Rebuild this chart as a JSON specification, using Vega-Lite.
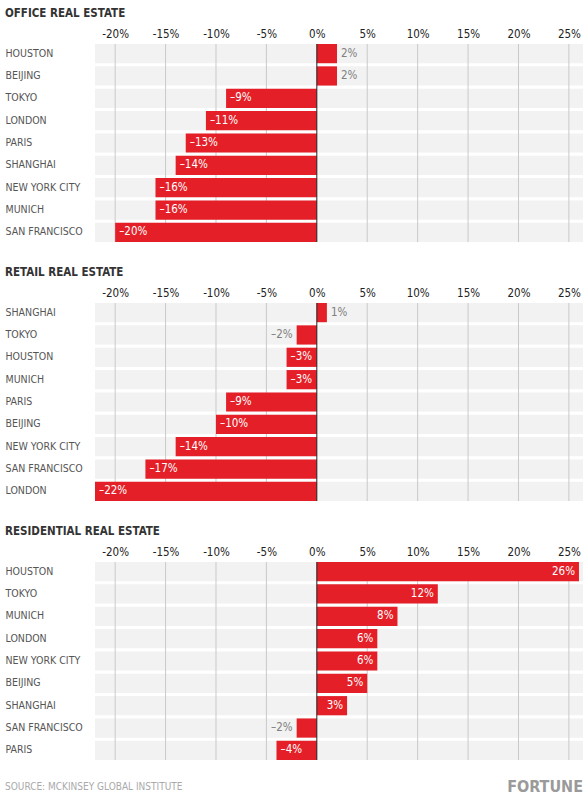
{
  "$schema": "https://vega.github.io/schema/vega-lite/v6.json",
  "padding": {"left": 5, "top": 7, "right": 0, "bottom": 4},
  "background": "white",
  "datasets": {
    "rows": [
      {"panel": "office", "city": "HOUSTON", "v": 2, "label": "2%"},
      {"panel": "office", "city": "BEIJING", "v": 2, "label": "2%"},
      {"panel": "office", "city": "TOKYO", "v": -9, "label": "–9%"},
      {"panel": "office", "city": "LONDON", "v": -11, "label": "–11%"},
      {"panel": "office", "city": "PARIS", "v": -13, "label": "–13%"},
      {"panel": "office", "city": "SHANGHAI", "v": -14, "label": "–14%"},
      {"panel": "office", "city": "NEW YORK CITY", "v": -16, "label": "–16%"},
      {"panel": "office", "city": "MUNICH", "v": -16, "label": "–16%"},
      {"panel": "office", "city": "SAN FRANCISCO", "v": -20, "label": "–20%"},
      {"panel": "retail", "city": "SHANGHAI", "v": 1, "label": "1%"},
      {"panel": "retail", "city": "TOKYO", "v": -2, "label": "–2%"},
      {"panel": "retail", "city": "HOUSTON", "v": -3, "label": "–3%"},
      {"panel": "retail", "city": "MUNICH", "v": -3, "label": "–3%"},
      {"panel": "retail", "city": "PARIS", "v": -9, "label": "–9%"},
      {"panel": "retail", "city": "BEIJING", "v": -10, "label": "–10%"},
      {"panel": "retail", "city": "NEW YORK CITY", "v": -14, "label": "–14%"},
      {"panel": "retail", "city": "SAN FRANCISCO", "v": -17, "label": "–17%"},
      {"panel": "retail", "city": "LONDON", "v": -22, "label": "–22%"},
      {"panel": "residential", "city": "HOUSTON", "v": 26, "label": "26%"},
      {"panel": "residential", "city": "TOKYO", "v": 12, "label": "12%"},
      {"panel": "residential", "city": "MUNICH", "v": 8, "label": "8%"},
      {"panel": "residential", "city": "LONDON", "v": 6, "label": "6%"},
      {"panel": "residential", "city": "NEW YORK CITY", "v": 6, "label": "6%"},
      {"panel": "residential", "city": "BEIJING", "v": 5, "label": "5%"},
      {"panel": "residential", "city": "SHANGHAI", "v": 3, "label": "3%"},
      {"panel": "residential", "city": "SAN FRANCISCO", "v": -2, "label": "–2%"},
      {"panel": "residential", "city": "PARIS", "v": -4, "label": "–4%"}
    ],
    "ticks": [
      {"t": -20}, {"t": -15}, {"t": -10}, {"t": -5}, {"t": 5}, {"t": 10}, {"t": 15}, {"t": 20}, {"t": 25}
    ]
  },
  "title": {
    "text": "FORTUNE",
    "orient": "bottom",
    "anchor": "end",
    "fontSize": 16,
    "fontWeight": "bold",
    "color": "#9a9a9a",
    "offset": 0,
    "dy": -13
  },
  "spacing": 23,
  "vconcat": [
    {
      "vconcat": [
        {
          "title": {"text": "OFFICE REAL ESTATE"},
          "width": 488,
          "height": 198,
          "data": {"name": "rows"},
          "transform": [{"filter": "datum.panel == 'office'"}],
          "layer": [
            {
              "mark": {"type": "bar", "color": "#f2f2f2"},
              "encoding": {
                "y": {"field": "city", "type": "nominal", "sort": null, "scale": {"paddingInner": 0.14, "paddingOuter": 0}, "axis": {"labelAlign": "left", "labelPadding": 90, "ticks": false, "domain": false, "title": null, "labelFontSize": 10.5, "labelColor": "#555555"}},
                "x": {"datum": -22, "type": "quantitative", "scale": {"domain": [-22, 26.4], "nice": false, "zero": false}, "axis": {"orient": "top", "values": [-20, -15, -10, -5, 0, 5, 10, 15, 20, 25], "labelExpr": "datum.value + '%'", "grid": false, "ticks": false, "domain": false, "title": null, "labelPadding": 5, "labelFontSize": 11.5, "labelColor": "#222222"}},
                "x2": {"datum": 26.4}
              }
            },
            {
              "data": {"name": "ticks"},
              "mark": {"type": "rule", "color": "#c9c9c9", "strokeWidth": 1},
              "encoding": {"x": {"field": "t", "type": "quantitative"}}
            },
            {
              "mark": {"type": "bar", "color": "#e41f28"},
              "encoding": {
                "y": {"field": "city", "type": "nominal", "sort": null},
                "x": {"field": "v", "type": "quantitative"},
                "x2": {"datum": 0}
              }
            },
            {
              "data": {"values": [{}]},
              "mark": {"type": "rule", "color": "#222222", "strokeWidth": 1},
              "encoding": {"x": {"datum": 0}}
            },
            {
              "transform": [{"filter": "datum.v <= -3"}],
              "mark": {"type": "text", "align": "left", "dx": 4, "fontSize": 11.5, "fontWeight": 500, "color": "white"},
              "encoding": {"y": {"field": "city", "type": "nominal", "sort": null}, "x": {"field": "v", "type": "quantitative"}, "text": {"field": "label"}}
            },
            {
              "transform": [{"filter": "datum.v >= 3"}],
              "mark": {"type": "text", "align": "right", "dx": -4, "fontSize": 11.5, "fontWeight": 500, "color": "white"},
              "encoding": {"y": {"field": "city", "type": "nominal", "sort": null}, "x": {"field": "v", "type": "quantitative"}, "text": {"field": "label"}}
            },
            {
              "transform": [{"filter": "datum.v > 0 && datum.v < 3"}],
              "mark": {"type": "text", "align": "left", "dx": 4, "fontSize": 11.5, "color": "#808080"},
              "encoding": {"y": {"field": "city", "type": "nominal", "sort": null}, "x": {"field": "v", "type": "quantitative"}, "text": {"field": "label"}}
            },
            {
              "transform": [{"filter": "datum.v < 0 && datum.v > -3"}],
              "mark": {"type": "text", "align": "right", "dx": -4, "fontSize": 11.5, "color": "#808080"},
              "encoding": {"y": {"field": "city", "type": "nominal", "sort": null}, "x": {"field": "v", "type": "quantitative"}, "text": {"field": "label"}}
            }
          ]
        }
      ]
    },
    {
      "vconcat": [
        {
          "title": {"text": "RETAIL REAL ESTATE"},
          "width": 488,
          "height": 198,
          "data": {"name": "rows"},
          "transform": [{"filter": "datum.panel == 'retail'"}],
          "layer": [
            {
              "mark": {"type": "bar", "color": "#f2f2f2"},
              "encoding": {
                "y": {"field": "city", "type": "nominal", "sort": null, "scale": {"paddingInner": 0.14, "paddingOuter": 0}, "axis": {"labelAlign": "left", "labelPadding": 90, "ticks": false, "domain": false, "title": null, "labelFontSize": 10.5, "labelColor": "#555555"}},
                "x": {"datum": -22, "type": "quantitative", "scale": {"domain": [-22, 26.4], "nice": false, "zero": false}, "axis": {"orient": "top", "values": [-20, -15, -10, -5, 0, 5, 10, 15, 20, 25], "labelExpr": "datum.value + '%'", "grid": false, "ticks": false, "domain": false, "title": null, "labelPadding": 5, "labelFontSize": 11.5, "labelColor": "#222222"}},
                "x2": {"datum": 26.4}
              }
            },
            {
              "data": {"name": "ticks"},
              "mark": {"type": "rule", "color": "#c9c9c9", "strokeWidth": 1},
              "encoding": {"x": {"field": "t", "type": "quantitative"}}
            },
            {
              "mark": {"type": "bar", "color": "#e41f28"},
              "encoding": {
                "y": {"field": "city", "type": "nominal", "sort": null},
                "x": {"field": "v", "type": "quantitative"},
                "x2": {"datum": 0}
              }
            },
            {
              "data": {"values": [{}]},
              "mark": {"type": "rule", "color": "#222222", "strokeWidth": 1},
              "encoding": {"x": {"datum": 0}}
            },
            {
              "transform": [{"filter": "datum.v <= -3"}],
              "mark": {"type": "text", "align": "left", "dx": 4, "fontSize": 11.5, "fontWeight": 500, "color": "white"},
              "encoding": {"y": {"field": "city", "type": "nominal", "sort": null}, "x": {"field": "v", "type": "quantitative"}, "text": {"field": "label"}}
            },
            {
              "transform": [{"filter": "datum.v >= 3"}],
              "mark": {"type": "text", "align": "right", "dx": -4, "fontSize": 11.5, "fontWeight": 500, "color": "white"},
              "encoding": {"y": {"field": "city", "type": "nominal", "sort": null}, "x": {"field": "v", "type": "quantitative"}, "text": {"field": "label"}}
            },
            {
              "transform": [{"filter": "datum.v > 0 && datum.v < 3"}],
              "mark": {"type": "text", "align": "left", "dx": 4, "fontSize": 11.5, "color": "#808080"},
              "encoding": {"y": {"field": "city", "type": "nominal", "sort": null}, "x": {"field": "v", "type": "quantitative"}, "text": {"field": "label"}}
            },
            {
              "transform": [{"filter": "datum.v < 0 && datum.v > -3"}],
              "mark": {"type": "text", "align": "right", "dx": -4, "fontSize": 11.5, "color": "#808080"},
              "encoding": {"y": {"field": "city", "type": "nominal", "sort": null}, "x": {"field": "v", "type": "quantitative"}, "text": {"field": "label"}}
            }
          ]
        }
      ]
    },
    {
      "title": {
        "text": "SOURCE: MCKINSEY GLOBAL INSTITUTE",
        "orient": "bottom",
        "anchor": "start",
        "fontSize": 10,
        "fontWeight": "normal",
        "color": "#aaaaaa",
        "offset": 21
      },
      "vconcat": [
        {
          "title": {"text": "RESIDENTIAL REAL ESTATE"},
          "width": 488,
          "height": 198,
          "data": {"name": "rows"},
          "transform": [{"filter": "datum.panel == 'residential'"}],
          "layer": [
            {
              "mark": {"type": "bar", "color": "#f2f2f2"},
              "encoding": {
                "y": {"field": "city", "type": "nominal", "sort": null, "scale": {"paddingInner": 0.14, "paddingOuter": 0}, "axis": {"labelAlign": "left", "labelPadding": 90, "ticks": false, "domain": false, "title": null, "labelFontSize": 10.5, "labelColor": "#555555"}},
                "x": {"datum": -22, "type": "quantitative", "scale": {"domain": [-22, 26.4], "nice": false, "zero": false}, "axis": {"orient": "top", "values": [-20, -15, -10, -5, 0, 5, 10, 15, 20, 25], "labelExpr": "datum.value + '%'", "grid": false, "ticks": false, "domain": false, "title": null, "labelPadding": 5, "labelFontSize": 11.5, "labelColor": "#222222"}},
                "x2": {"datum": 26.4}
              }
            },
            {
              "data": {"name": "ticks"},
              "mark": {"type": "rule", "color": "#c9c9c9", "strokeWidth": 1},
              "encoding": {"x": {"field": "t", "type": "quantitative"}}
            },
            {
              "mark": {"type": "bar", "color": "#e41f28"},
              "encoding": {
                "y": {"field": "city", "type": "nominal", "sort": null},
                "x": {"field": "v", "type": "quantitative"},
                "x2": {"datum": 0}
              }
            },
            {
              "data": {"values": [{}]},
              "mark": {"type": "rule", "color": "#222222", "strokeWidth": 1},
              "encoding": {"x": {"datum": 0}}
            },
            {
              "transform": [{"filter": "datum.v <= -3"}],
              "mark": {"type": "text", "align": "left", "dx": 4, "fontSize": 11.5, "fontWeight": 500, "color": "white"},
              "encoding": {"y": {"field": "city", "type": "nominal", "sort": null}, "x": {"field": "v", "type": "quantitative"}, "text": {"field": "label"}}
            },
            {
              "transform": [{"filter": "datum.v >= 3"}],
              "mark": {"type": "text", "align": "right", "dx": -4, "fontSize": 11.5, "fontWeight": 500, "color": "white"},
              "encoding": {"y": {"field": "city", "type": "nominal", "sort": null}, "x": {"field": "v", "type": "quantitative"}, "text": {"field": "label"}}
            },
            {
              "transform": [{"filter": "datum.v > 0 && datum.v < 3"}],
              "mark": {"type": "text", "align": "left", "dx": 4, "fontSize": 11.5, "color": "#808080"},
              "encoding": {"y": {"field": "city", "type": "nominal", "sort": null}, "x": {"field": "v", "type": "quantitative"}, "text": {"field": "label"}}
            },
            {
              "transform": [{"filter": "datum.v < 0 && datum.v > -3"}],
              "mark": {"type": "text", "align": "right", "dx": -4, "fontSize": 11.5, "color": "#808080"},
              "encoding": {"y": {"field": "city", "type": "nominal", "sort": null}, "x": {"field": "v", "type": "quantitative"}, "text": {"field": "label"}}
            }
          ]
        }
      ]
    }
  ],
  "config": {
    "font": "DejaVu Sans Condensed",
    "view": {"stroke": null},
    "title": {"anchor": "start", "fontSize": 11.5, "fontWeight": "bold", "color": "#333333", "offset": 9, "font": "DejaVu Sans Condensed"},
    "axis": {"labelFont": "DejaVu Sans Condensed"},
    "text": {"font": "DejaVu Sans Condensed"}
  }
}
